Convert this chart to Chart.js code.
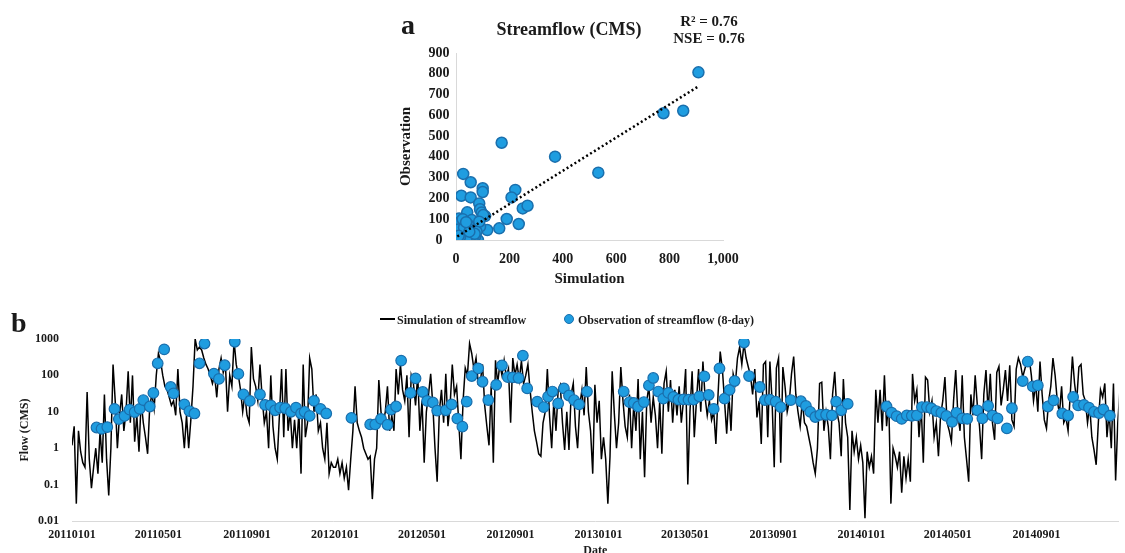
<!DOCTYPE html>
<html lang="en">
<head>
<meta charset="utf-8">
<title>Streamflow: simulation vs observation</title>
<script src="https://cdn.jsdelivr.net/npm/chart.js@4.4.1/dist/chart.umd.min.js"></script>
<style>
  html, body { margin: 0; padding: 0; background: #ffffff; }
  body {
    position: relative;
    width: 1125px;
    height: 553px;
    overflow: hidden;
    font-family: "Liberation Serif", "Times New Roman", serif;
    font-weight: bold;
    color: #1a1a1a;
  }
  canvas { position: absolute; }
  #scatter-chart { left: 380px; top: 0; }
  #flow-chart { left: 0; top: 300px; }
  .label { position: absolute; white-space: nowrap; line-height: 1; }
  .panel-letter { font-size: 28px; }
  #label-a { left: 401px; top: 11px; }
  #label-b { left: 11px; top: 309px; }
  #title-a { left: 569px; top: 20px; font-size: 18px; transform: translateX(-50%); }
  #stats-a { left: 709px; top: 13px; font-size: 15px; line-height: 17px; text-align: center; transform: translateX(-50%); }
  #legend-sim-line { position: absolute; left: 380px; top: 318px; width: 15px; height: 2px; background: #000; }
  #legend-sim-text { left: 397px; top: 314px; font-size: 12px; }
  #legend-obs-dot {
    position: absolute; left: 564px; top: 314px; width: 10px; height: 10px;
    border-radius: 50%; background: #1f9de0; border: 1px solid #1a6fad; box-sizing: border-box;
  }
  #legend-obs-text { left: 578px; top: 314px; font-size: 12px; }
</style>
</head>
<body>
<canvas id="scatter-chart" width="375" height="300"></canvas>
<canvas id="flow-chart" width="1125" height="270"></canvas>

<div id="label-a" class="label panel-letter">a</div>
<div id="title-a" class="label">Streamflow (CMS)</div>
<div id="stats-a" class="label">R² = 0.76<br>NSE = 0.76</div>

<div id="label-b" class="label panel-letter">b</div>
<div id="legend-sim-line"></div>
<div id="legend-sim-text" class="label">Simulation of streamflow</div>
<div id="legend-obs-dot"></div>
<div id="legend-obs-text" class="label">Observation of streamflow (8-day)</div>

<script>
// ---- panel a: simulated vs observed (CMS) ----
const scatterSim = [908, 777, 851, 171, 371, 533, 27, 55, 100, 100,
  20, 55, 222, 208, 87, 90, 96, 109, 42, 250,
  268, 190, 162, 117, 235, 82, 12, 12, 59, 27,
  9, 102, 34, 53, 65, 21, 46, 90, 27, 71,
  2, 87, 17, 46, 15, 34, 59, 77, 5, 21,
  62, 40, 15, 8, 30, 70, 50, 25, 38, 10];
const scatterObs = [807, 610, 622, 468, 401, 324, 318, 278, 249, 231,
  213, 205, 241, 205, 176, 148, 132, 115, 133, 152,
  165, 101, 56, 48, 77, 0, 104, 64, 96, 32,
  3, 120, 0, 24, 56, 40, 72, 64, 80, 16,
  32, 88, 88, 56, 30, 20, 24, 40, 8, 0,
  5, 10, 15, 50, 60, 30, 40, 100, 86, 20];
// linear trend end points
const trendSim = [5, 905];
const trendObs = [17, 737];

const simAxisTicks = [0, 200, 400, 600, 800, 1000];
const obsAxisTicks = [0, 100, 200, 300, 400, 500, 600, 700, 800, 900];

// ---- panel b: daily simulation, sampled every 3 days ----
const SIM_STEP_DAYS = 3;
const simStartDays = [0, 366, 732, 1098]; // days since 2011-01-01

const sim2011 = [1.2, 4, 0.03, 3, 0.8, 0.4, 0.3, 35, 0.5, 0.08,
  0.3, 1, 0.2, 3, 0.4, 30, 0.5, 0.05, 1, 200,
  20, 1, 8, 30, 3, 10, 130, 5, 100, 1.5,
  8, 0.8, 20, 5, 2, 0.7, 15, 30, 12, 100,
  400, 250, 100, 50, 40, 25, 15, 20, 8, 150,
  10, 5, 1, 8, 1, 6, 50, 1000, 500, 600,
  500, 300, 200, 150, 100, 60, 100, 25, 150, 300,
  120, 200, 10, 100, 50, 900, 200, 100, 40, 10,
  30, 8, 5, 600, 80, 50, 20, 200, 25, 5,
  10, 1, 100, 4, 1, 0.5, 8, 150, 2, 150,
  3, 10, 1, 6, 1, 10, 0.2, 200, 2, 5,
  300, 150, 10, 30, 3, 5, 1, 0.5, 5, 0.2, 0.4, 0.3];

const sim2012 = [0.3, 0.5, 0.2, 0.4, 0.15, 0.3, 0.07, 0.5, 3, 50,
  5, 3, 2, 1, 0.7, 0.5, 0.6, 0.04, 0.5, 1,
  75, 10, 5, 10, 50, 3, 8, 3, 150, 30,
  200, 40, 20, 100, 2, 100, 60, 15, 100, 3,
  20, 0.4, 10, 30, 110, 15, 1, 0.12, 10, 40,
  5, 110, 4, 15, 200, 30, 50, 5, 0.5, 20,
  160, 100, 750, 400, 150, 300, 60, 70, 200, 15,
  4, 1.2, 50, 0.4, 260, 60, 200, 100, 260, 90,
  150, 5, 300, 100, 200, 75, 250, 60, 100, 200,
  40, 10, 3, 1.5, 0.7, 0.6, 5, 10, 150, 8,
  1, 20, 3, 40, 55, 5, 0.9, 10, 0.9, 30,
  60, 4, 1, 15, 40, 8, 170, 10, 3, 0.2,
  55, 5];

const sim2013 = [20, 0.5, 2, 0.5, 0.03, 0.6, 130, 9, 1, 5,
  170, 20, 4, 2, 30, 1, 17, 3, 80, 0.5,
  10, 0.16, 20, 50, 5, 25, 8, 1, 20, 0.7,
  60, 130, 10, 75, 5, 40, 8, 50, 5, 20,
  150, 0.1, 10, 130, 2, 20, 150, 10, 240, 25,
  8, 20, 6, 10, 1.3, 30, 450, 150, 20, 2.5,
  30, 3, 110, 60, 300, 600, 200, 750, 300, 170,
  100, 30, 150, 7, 20, 1.3, 200, 240, 2, 240,
  20, 0.3, 160, 300, 0.4, 170, 50, 10, 20, 110,
  330, 30, 10, 4, 20, 5, 4, 2, 1, 0.4,
  0.2, 1, 60, 65, 3, 10, 4, 0.5, 30, 125,
  10, 5, 0.6, 80, 5, 2, 0.02, 3, 0.8, 2,
  0.5, 1.2];

const sim2014 = [0.4, 0.012, 0.8, 0.3, 0.6, 0.2, 40, 5, 40, 3,
  100, 4, 20, 0.03, 1, 0.6, 0.3, 0.8, 0.06, 0.6,
  0.15, 0.5, 0.12, 110, 20, 40, 2, 15, 0.4, 90,
  75, 10, 20, 2, 5, 0.6, 8, 20, 90, 5,
  3, 1.5, 20, 140, 8, 3, 100, 2, 0.5, 0.12,
  30, 8, 100, 15, 4, 0.5, 30, 140, 10, 110,
  5, 1.7, 120, 175, 15, 40, 140, 20, 190, 6,
  4, 150, 300, 200, 90, 150, 250, 300, 100, 20,
  60, 10, 240, 30, 6, 3.5, 20, 50, 300, 100,
  20, 9, 50, 5, 7, 3, 30, 330, 60, 20,
  170, 200, 30, 20, 5, 15, 2, 0.9, 0.35, 5,
  40, 25, 60, 2, 10, 1, 60, 0.13, 5, 40,
  3];

// ---- panel b: 8-day observations (day since 2011-01-01, CMS) ----
const obsDays2011 = [34, 41, 49, 59, 65, 73, 80, 87, 94, 99, 108, 113, 119, 128, 137, 141, 156, 163, 170, 177,
  184, 197, 204, 212, 226, 231, 238, 247, 261, 268, 276, 282, 289, 296, 304, 311, 318, 323, 330, 336, 345, 353];
const obsFlow2011 = [3.7, 3.4, 3.8, 12, 6.3, 7.7, 11.5, 9.8, 12, 21, 14, 33, 215, 520, 48, 32, 16, 10.5, 9, 215,
  750, 112, 80, 190, 840, 110, 30, 20, 30, 15.5, 15, 11, 13, 12.5, 10, 13, 9, 10, 7.7, 20, 12, 9];

const obsDays2012 = [388, 414, 421, 429, 438, 443, 450, 457, 470, 477, 487, 493, 501, 507, 519, 527, 535, 542, 548, 555,
  564, 570, 578, 589, 597, 605, 612, 620, 626, 632, 646, 655, 661, 667, 675, 683, 690, 697, 704, 715];
const obsFlow2012 = [6.8, 4.5, 4.5, 6.4, 4.4, 11.5, 14, 255, 33, 83, 35, 20, 18, 10.8, 11, 16, 6.5, 3.9, 19, 96,
  156, 67, 21, 55, 188, 90, 88, 85, 350, 44, 19, 13.5, 26, 36, 17, 44, 28, 21, 16, 36];

const obsDays2013 = [766, 774, 780, 786, 794, 801, 807, 814, 821, 828, 835, 842, 849, 856, 863, 871, 878, 884, 891, 899,
  906, 913, 920, 933, 940, 955, 962, 969, 977, 984, 998, 1012, 1019, 1025, 1032, 1039, 1047, 1055, 1061, 1068, 1077];
const obsFlow2013 = [36, 18.5, 17.5, 14, 18.5, 53, 85, 36, 23, 33, 25.5, 21.5, 22, 21.5, 21.5, 26.5, 94, 29, 12, 156,
  23, 40, 70, 800, 96, 48, 21, 21.5, 19, 13.5, 21, 19.5, 14.5, 10, 7.2, 8.3, 8.3, 8, 19, 11, 16.5];

const obsDays2014 = [1131, 1138, 1145, 1152, 1159, 1166, 1173, 1180, 1187, 1193, 1200, 1207, 1214, 1222, 1228, 1236, 1243, 1257, 1264, 1272,
  1278, 1285, 1298, 1305, 1320, 1327, 1334, 1341, 1355, 1363, 1375, 1383, 1390, 1397, 1405, 1412, 1419, 1426, 1432, 1441];
const obsFlow2014 = [14, 9.5, 7.6, 6.4, 8, 7.8, 8, 13.5, 13.5, 12.5, 10.5, 9.5, 7.7, 5.3, 9.4, 6.6, 6.4, 11, 6.6, 14.5,
  7.9, 6.6, 3.5, 12.5, 70, 240, 50, 53, 14, 20.5, 9, 7.9, 25.5, 15, 15.5, 13, 10, 9.2, 11.6, 7.8];

const dateTickLabels = ["20110101", "20110501", "20110901", "20120101", "20120501", "20120901",
  "20130101", "20130501", "20130901", "20140101", "20140501", "20140901"];
const flowTicks = [0.01, 0.1, 1, 10, 100, 1000];
const X_END_DAY = 1453; // right edge of the plotted window

const DOT_FILL = "#1f9de0";
const DOT_EDGE = "#1a6fad";

/** yyyymmdd -> days since 2011-01-01 */
function dayOf(label) {
  const y = Number(label.slice(0, 4));
  const m = Number(label.slice(4, 6));
  const d = Number(label.slice(6, 8));
  return (Date.UTC(y, m - 1, d) - Date.UTC(2011, 0, 1)) / 86400000;
}

Chart.defaults.font.family = '"Liberation Serif", "Times New Roman", serif';
Chart.defaults.font.weight = "bold";
Chart.defaults.color = "#1a1a1a";
Chart.defaults.animation = false;

const noGrid = { display: false, drawTicks: false };

// panel a
const scatterPoints = scatterSim.map((x, i) => ({ x, y: scatterObs[i] }));
const trendPoints = trendSim.map((x, i) => ({ x, y: trendObs[i] }));

new Chart(document.getElementById("scatter-chart"), {
  type: "scatter",
  data: {
    datasets: [
      {
        type: "line",
        data: trendPoints,
        borderColor: "#000",
        borderWidth: 2.5,
        borderDash: [2, 2.6],
        pointRadius: 0,
        order: 0,
      },
      {
        data: scatterPoints,
        backgroundColor: DOT_FILL,
        borderColor: DOT_EDGE,
        borderWidth: 1.5,
        pointRadius: 5.5,
        order: 1,
      },
    ],
  },
  options: {
    responsive: false,
    layout: { padding: { top: 53, right: 32, left: 0, bottom: 0 } },
    plugins: { legend: { display: false }, tooltip: { enabled: false } },
    scales: {
      x: {
        type: "linear",
        min: 0,
        max: 1000,
        grid: noGrid,
        border: { display: true, color: "#d9d9d9" },
        afterBuildTicks: (s) => { s.ticks = simAxisTicks.map((v) => ({ value: v })); },
        afterFit: (s) => { s.height = 60; },
        ticks: { font: { size: 14 }, padding: 11, callback: (v) => v.toLocaleString("en-US") },
        title: { display: true, text: "Simulation", font: { size: 15 }, padding: { top: 0, bottom: 12 } },
      },
      y: {
        type: "linear",
        min: 0,
        max: 900,
        grid: noGrid,
        border: { display: true, color: "#d9d9d9" },
        afterBuildTicks: (s) => { s.ticks = obsAxisTicks.map((v) => ({ value: v })); },
        afterFit: (s) => { s.width = 76; },
        ticks: { font: { size: 14 }, padding: 6.5, crossAlign: "center" },
        title: { display: true, text: "Observation", font: { size: 15 }, padding: { top: 17, bottom: 0 } },
      },
    },
  },
});

// panel b
const simSeries = [sim2011, sim2012, sim2013, sim2014];
const simPoints = simSeries.flatMap((vals, k) =>
  vals.map((v, i) => ({ x: simStartDays[k] + i * SIM_STEP_DAYS, y: v }))
);
const obsDays = [obsDays2011, obsDays2012, obsDays2013, obsDays2014].flat();
const obsFlow = [obsFlow2011, obsFlow2012, obsFlow2013, obsFlow2014].flat();
const obsPoints = obsDays.map((d, i) => ({ x: d, y: obsFlow[i] }));

new Chart(document.getElementById("flow-chart"), {
  type: "line",
  data: {
    datasets: [
      {
        type: "scatter",
        label: "Observation of streamflow (8-day)",
        data: obsPoints,
        backgroundColor: DOT_FILL,
        borderColor: DOT_EDGE,
        borderWidth: 1.2,
        pointRadius: 5.3,
        order: 0,
      },
      {
        label: "Simulation of streamflow",
        data: simPoints,
        borderColor: "#000",
        borderWidth: 1.5,
        pointRadius: 0,
        tension: 0,
        order: 1,
      },
    ],
  },
  options: {
    responsive: false,
    layout: { padding: { top: 39, right: 0, left: 0, bottom: 0 } },
    plugins: { legend: { display: false }, tooltip: { enabled: false } },
    scales: {
      x: {
        type: "linear",
        min: 0,
        max: X_END_DAY,
        grid: noGrid,
        border: { display: true, color: "#d9d9d9" },
        afterBuildTicks: (s) => { s.ticks = dateTickLabels.map((l) => ({ value: dayOf(l) })); },
        afterFit: (s) => { s.height = 49; },
        ticks: {
          font: { size: 12 },
          padding: 7,
          maxRotation: 0,
          autoSkip: false,
          callback: (v, i) => dateTickLabels[i],
        },
        title: { display: true, text: "Date", font: { size: 12 }, padding: { top: 0, bottom: 12 } },
      },
      y: {
        type: "logarithmic",
        min: 0.01,
        max: 1000,
        grid: noGrid,
        border: { display: false },
        afterBuildTicks: (s) => { s.ticks = flowTicks.map((v) => ({ value: v })); },
        afterFit: (s) => { s.width = 72; },
        ticks: { font: { size: 12 }, padding: 13, callback: (v) => String(v) },
        title: { display: true, text: "Flow (CMS)", font: { size: 12 }, padding: { top: 18, bottom: 0 } },
      },
    },
  },
});
</script>
</body>
</html>
